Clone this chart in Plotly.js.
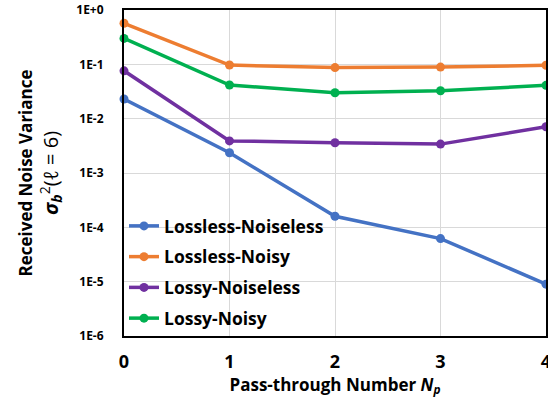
<!DOCTYPE html>
<html><head><meta charset="utf-8">
<script src="https://cdn.plot.ly/plotly-3.0.1.min.js"></script>
<style>body{margin:0}#c{width:548px;height:402px}</style>
</head><body><div id="c"></div>
<script>
const passNumbers = [0, 1, 2, 3, 4];
const losslessNoiseless = [0.023, 0.00236, 0.00016, 0.000062, 0.000009];
const losslessNoisy = [0.57, 0.097, 0.087, 0.089, 0.096];
const lossyNoiseless = [0.076, 0.0039, 0.0036, 0.0034, 0.0071];
const lossyNoisy = [0.30, 0.0416, 0.030, 0.0327, 0.041];
const yTickVals = [1, 0.1, 0.01, 0.001, 0.0001, 0.00001, 0.000001];
const yTickText = ['1E+0', '1E-1', '1E-2', '1E-3', '1E-4', '1E-5', '1E-6'];

const FONT = 'Open Sans, Liberation Sans, sans-serif';
function tr(name, y, color) {
  return {x: passNumbers, y: y, name: name, legendgroup: name, type: 'scatter', mode: 'lines+markers',
    line: {color: color, width: 3.5}, marker: {color: color, size: 9}, cliponaxis: false};
}
const data = [
  tr('Lossless-Noiseless', losslessNoiseless, '#4472C4'),
  tr('Lossless-Noisy', losslessNoisy, '#ED7D31'),
  tr('Lossy-Noiseless', lossyNoiseless, '#7030A0'),
  tr('Lossy-Noisy', lossyNoisy, '#00B050')
];
const layout = {
  width: 548, height: 402,
  margin: {l: 124, r: 2, t: 10, b: 66},
  paper_bgcolor: 'white', plot_bgcolor: 'white',
  font: {family: FONT, color: 'black'},
  showlegend: true,
  legend: {x: 0.0, y: 0.0, xanchor: 'left', yanchor: 'bottom', bgcolor: 'rgba(0,0,0,0)',
    font: {size: 17.5, family: FONT, weight: 'bold'}, tracegroupgap: 5, itemwidth: 30},
  xaxis: {range: [0, 4], tickvals: passNumbers, ticktext: passNumbers.map(String),
    showgrid: true, gridcolor: '#d9d9d9', gridwidth: 1,
    showline: true, linecolor: 'black', linewidth: 2, mirror: true, zeroline: false,
    ticks: '', ticklabelstandoff: 8, ticklabeloverflow: 'allow',
    tickfont: {size: 18, family: FONT, weight: 'bold'},
    title: {text: '<b>Pass-through Number </b><b><i>N</i></b><sub><b><i>p</i></b></sub>',
      font: {size: 17, family: FONT}, standoff: 0}},
  yaxis: {type: 'log', range: [-6, 0], tickvals: yTickVals, ticktext: yTickText,
    showgrid: true, gridcolor: '#d9d9d9', gridwidth: 1,
    showline: true, linecolor: 'black', linewidth: 2, mirror: true, zeroline: false,
    ticks: '', ticklabelstandoff: 16,
    tickfont: {size: 12, family: FONT, weight: 'bold'},
    title: {text: '<span style="font-size:17px"><b>Received Noise Variance</b></span><br><b><i>σ</i></b><sub><b><i>b</i></b></sub><sup>2</sup>(<i>ℓ</i> = 6)',
      font: {size: 20, family: FONT}, standoff: 12}}
};
Plotly.newPlot('c', data, layout, {displayModeBar: false, staticPlot: true});
</script></body></html>
